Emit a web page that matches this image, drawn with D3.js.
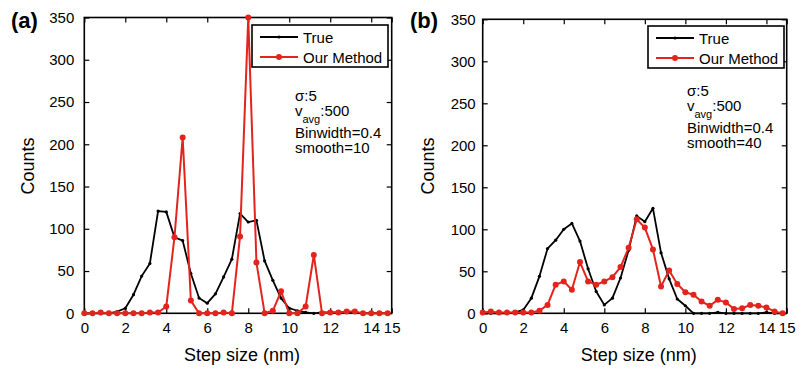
<!DOCTYPE html>
<html>
<head>
<meta charset="utf-8">
<script src="https://cdn.jsdelivr.net/npm/d3@7"></script>
<style>
  html, body { margin: 0; padding: 0; background: #fff; }
  svg { display: block; font-family: "Liberation Sans", Arial, Helvetica, sans-serif; }
</style>
</head>
<body>
<svg id="chart" width="799" height="369"></svg>
<script>
// Bin centres of the step-size histogram (nm)
const stepSize = [0, 0.4, 0.8, 1.2, 1.6, 2.0, 2.4, 2.8, 3.2, 3.6, 4.0, 4.4, 4.8, 5.2, 5.6, 6.0, 6.4, 6.8, 7.2, 7.6,
                  8.0, 8.4, 8.8, 9.2, 9.6, 10.0, 10.4, 10.8, 11.2, 11.6, 12.0, 12.4, 12.8, 13.2, 13.6, 14.0, 14.4, 14.8];

// Panel (a): smooth = 10
const trueA   = [0, 0, 0, 0, 2, 6, 22, 44, 59, 121, 120, 90, 86, 47, 18, 12, 23, 43, 64, 118,
                 108, 110, 62, 39, 18, 6, 3, 1, 0, 1, 1, 1, 1, 1, 0, 0, 0, 0];
const methodA = [0, 0, 1, 0, 0, 0, 0, 0, 1, 1, 8, 90, 208, 15, 0, 0, 0, 1, 0, 91,
                 350, 60, 0, 3, 26, 0, 0, 8, 69, 0, 1, 1, 2, 2, 0, 0, 0, 0];

// Panel (b): smooth = 40
const trueB   = [0, 0, 0, 0, 1, 4, 18, 44, 77, 87, 100, 107, 86, 53, 26, 10, 18, 42, 75, 116,
                 109, 125, 72, 41, 17, 9, 0, 0, 0, 1, 0, 0, 0, 0, 0, 1, 0, 0];
const methodB = [1, 2, 1, 1, 1, 1, 1, 3, 10, 34, 38, 28, 61, 38, 34, 38, 43, 55, 78, 112,
                 102, 76, 32, 51, 35, 25, 22, 14, 9, 16, 13, 5, 6, 10, 9, 7, 2, 0];

const xTicks = [0, 2, 4, 6, 8, 10, 12, 14, 15];
const yTicks = [0, 50, 100, 150, 200, 250, 300, 350];
const seriesNames = ["True", "Our Method"];
const panelLabels = ["(a)", "(b)"];
const smoothValues = [10, 40];

const RED = "#e2241d";
const svg = d3.select("#chart");

const panels = [
  { label: panelLabels[0], truth: trueA, method: methodA, smooth: smoothValues[0],
    left: 84.3, right: 391.7, top: 17.5, bottom: 313.3, tickGap: 10, legendX: 252, legendY: 25,
    noteX: 295, noteY: 100.7, titleX: 11, ylabX: 34 },
  { label: panelLabels[1], truth: trueB, method: methodB, smooth: smoothValues[1],
    left: 482.7, right: 786.7, top: 19.3, bottom: 313.3, tickGap: 7, legendX: 648, legendY: 26,
    noteX: 687, noteY: 95.5, titleX: 410, ylabX: 434 }
];

panels.forEach(p => {
  const x = d3.scaleLinear().domain([0, 15]).range([p.left, p.right]);
  const y = d3.scaleLinear().domain([0, 350]).range([p.bottom, p.top]);
  const g = svg.append("g");

  // inward ticks on all four sides
  const tickLen = 5;
  const axisStyle = sel => {
    sel.select(".domain").remove();
    sel.selectAll("line").attr("stroke", "#000").attr("stroke-width", 1.2);
    sel.selectAll("text").attr("font-size", 15).attr("fill", "#000");
  };
  g.append("g").attr("transform", `translate(0,${p.bottom})`)
    .call(d3.axisBottom(x).tickValues(xTicks).tickSize(-tickLen).tickPadding(9).tickFormat(d3.format("d")))
    .call(axisStyle);
  g.append("g").attr("transform", `translate(0,${p.top})`)
    .call(d3.axisTop(x).tickValues(xTicks).tickSize(-tickLen).tickFormat(""))
    .call(axisStyle);
  g.append("g").attr("transform", `translate(${p.left},0)`)
    .call(d3.axisLeft(y).tickValues(yTicks).tickSize(-tickLen).tickPadding(p.tickGap))
    .call(axisStyle);
  g.append("g").attr("transform", `translate(${p.right},0)`)
    .call(d3.axisRight(y).tickValues(yTicks).tickSize(-tickLen).tickFormat(""))
    .call(axisStyle);

  // frame
  g.append("rect")
    .attr("x", p.left).attr("y", p.top)
    .attr("width", p.right - p.left).attr("height", p.bottom - p.top)
    .attr("fill", "none").attr("stroke", "#000").attr("stroke-width", 1.6);

  const line = d3.line().x((d, i) => x(stepSize[i])).y(d => y(d));

  // true distribution
  g.append("path").datum(p.truth)
    .attr("d", line).attr("fill", "none").attr("stroke", "#000")
    .attr("stroke-width", 1.8).attr("stroke-linejoin", "round");
  g.selectAll(".dt").data(p.truth).join("circle")
    .attr("cx", (d, i) => x(stepSize[i])).attr("cy", d => y(d))
    .attr("r", 1.6).attr("fill", "#000");

  // recovered distribution
  g.append("path").datum(p.method)
    .attr("d", line).attr("fill", "none").attr("stroke", RED)
    .attr("stroke-width", 2).attr("stroke-linejoin", "round");
  g.selectAll(".dm").data(p.method).join("circle")
    .attr("cx", (d, i) => x(stepSize[i])).attr("cy", d => y(d))
    .attr("r", 3).attr("fill", RED);

  // legend
  const lg = g.append("g").attr("transform", `translate(${p.legendX},${p.legendY})`);
  lg.append("rect").attr("width", 136).attr("height", 42)
    .attr("fill", "#fff").attr("stroke", "#000").attr("stroke-width", 1.6);
  [{ c: "#000", r: 1.6 }, { c: RED, r: 3 }].forEach((s, i) => {
    const yy = 12 + i * 20;
    lg.append("line").attr("x1", 8).attr("x2", 46).attr("y1", yy).attr("y2", yy)
      .attr("stroke", s.c).attr("stroke-width", i ? 2 : 1.8);
    lg.append("circle").attr("cx", 27).attr("cy", yy).attr("r", s.r).attr("fill", s.c);
    lg.append("text").attr("x", 51).attr("y", yy + 5.5).attr("font-size", 15)
      .text(seriesNames[i]);
  });

  // parameter note, one text element per line
  const note = g.append("g").attr("font-size", 15).attr("fill", "#000");
  note.append("text").attr("x", p.noteX).attr("y", p.noteY).text("σ:5");
  const vLine = note.append("text").attr("x", p.noteX).attr("y", p.noteY + 15.5);
  vLine.append("tspan").text("v");
  vLine.append("tspan").attr("dy", 6.5).attr("font-size", 11).text("avg");
  vLine.append("tspan").attr("dy", -6.5).text(":500");
  note.append("text").attr("x", p.noteX).attr("y", p.noteY + 37).text("Binwidth=0.4");
  note.append("text").attr("x", p.noteX).attr("y", p.noteY + 52.5).text("smooth=" + p.smooth);

  // axis titles
  g.append("text").attr("x", (p.left + p.right) / 2 + 4).attr("y", 361)
    .attr("text-anchor", "middle").attr("font-size", 18).text("Step size (nm)");
  g.append("text")
    .attr("transform", `translate(${p.ylabX},166) rotate(-90)`)
    .attr("text-anchor", "middle").attr("font-size", 18).text("Counts");

  // panel letter
  g.append("text").attr("x", p.titleX).attr("y", 28)
    .attr("font-size", 22).attr("font-weight", "bold").text(p.label);
});
</script>
</body>
</html>
